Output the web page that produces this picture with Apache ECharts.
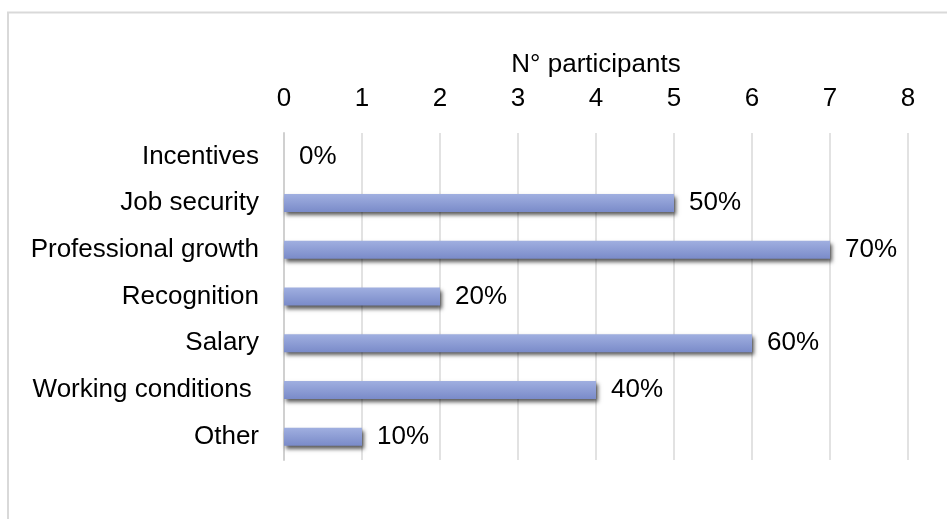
<!DOCTYPE html>
<html>
<head>
<meta charset="utf-8">
<script src="https://cdn.jsdelivr.net/npm/echarts@6/dist/echarts.min.js"></script>
<style>
  html, body { margin: 0; padding: 0; background: #ffffff; }
  #chart { width: 947px; height: 519px; }
</style>
</head>
<body>
<div id="chart"></div>
<script>
// Reasons chosen by participants (count of participants per reason)
const categories = ['Incentives', 'Job security', 'Professional growth', 'Recognition', 'Salary', 'Working conditions ', 'Other'];
const participants = [0, 5, 7, 2, 6, 4, 1];
const percentLabels = ['0%', '50%', '70%', '20%', '60%', '40%', '10%'];
const axisTicks = [0, 1, 2, 3, 4, 5, 6, 7, 8];
const axisTitle = 'N° participants';

const chart = echarts.init(document.getElementById('chart'), null, { renderer: 'canvas' });

const font = 'Liberation Sans, Arial, sans-serif';
const fontSize = 26;

chart.setOption({
  backgroundColor: '#ffffff',
  animation: false,
  graphic: [{
    type: 'rect',
    shape: { x: 8, y: 12.5, width: 960, height: 540 },
    style: { fill: 'none', stroke: '#d9d9d9', lineWidth: 2 },
    silent: true
  }],
  grid: { left: 284, right: 39, top: 133, bottom: 59, containLabel: false },
  xAxis: {
    type: 'value',
    position: 'top',
    min: axisTicks[0],
    max: axisTicks[axisTicks.length - 1],
    interval: 1,
    name: axisTitle,
    nameLocation: 'middle',
    nameGap: 55,
    nameTextStyle: { fontFamily: font, fontSize: fontSize, color: '#000' },
    axisLine: { show: false },
    axisTick: { show: false },
    axisLabel: { margin: 21, fontFamily: font, fontSize: fontSize, color: '#000' },
    splitLine: { show: true, lineStyle: { color: '#d9d9d9', width: 1.5 } }
  },
  yAxis: {
    type: 'category',
    inverse: true,
    data: categories,
    axisLine: { show: true, lineStyle: { color: '#d0d0d0', width: 2 } },
    axisTick: { show: false },
    axisLabel: { margin: 25, fontFamily: font, fontSize: fontSize, color: '#000' }
  },
  series: [{
    type: 'bar',
    data: participants,
    barWidth: 18,
    itemStyle: {
      color: new echarts.graphic.LinearGradient(0, 0, 0, 1, [
        { offset: 0, color: '#a0afe0' },
        { offset: 1, color: '#7a8bc9' }
      ]),
      shadowColor: 'rgba(0,0,0,0.65)',
      shadowBlur: 4,
      shadowOffsetX: 2,
      shadowOffsetY: 3
    },
    label: {
      show: true,
      position: 'right',
      distance: 15,
      fontFamily: font,
      fontSize: fontSize,
      color: '#000',
      formatter: p => percentLabels[p.dataIndex]
    }
  }]
});
</script>
</body>
</html>
